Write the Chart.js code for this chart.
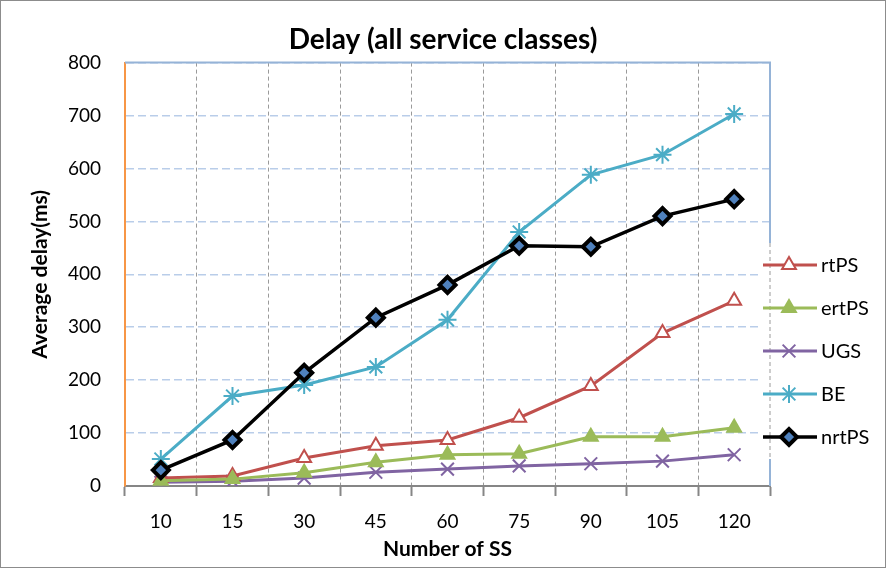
<!DOCTYPE html>
<html>
<head>
<meta charset="utf-8">
<script src="https://cdn.jsdelivr.net/npm/chart.js@4"></script>
<style>
  html, body { margin: 0; padding: 0; background: #fff; }
  #wrap { width: 886px; height: 568px; }
</style>
</head>
<body>
<div id="wrap"><canvas id="delayChart" width="886" height="568"></canvas></div>
<script>
var categories = ['10', '15', '30', '45', '60', '75', '90', '105', '120'];
var yTicks = [0, 100, 200, 300, 400, 500, 600, 700, 800];

var rtPS  = [15, 19, 53, 76, 87, 129, 189, 289, 350];
var ertPS = [10, 13, 25, 45, 59, 61, 93, 93, 110];
var UGS   = [7, 9, 15, 26, 32, 38, 42, 47, 59];
var BE    = [51, 170, 191, 225, 314, 480, 588, 626, 703];
var nrtPS = [30, 87, 214, 318, 380, 454, 452, 510, 542];

var FONT = 'Lato, "Open Sans", sans-serif';

// plot frame (top + right edges) and outer border
var framePlugin = {
    id: 'frame',
    beforeDatasetsDraw: function (chart) {
        var a = chart.chartArea, ctx = chart.ctx;
        ctx.save();
        ctx.strokeStyle = '#95b3d7';
        ctx.lineWidth = 2;
        ctx.beginPath();
        ctx.moveTo(a.left, a.top);
        ctx.lineTo(a.right, a.top);
        ctx.lineTo(a.right, a.bottom);
        ctx.stroke();
        ctx.restore();
    },
    afterDraw: function (chart) {
        var ctx = chart.ctx;
        ctx.save();
        ctx.strokeStyle = '#8c8c8c';
        ctx.lineWidth = 1;
        ctx.strokeRect(0.5, 0.5, chart.width - 1, chart.height - 1);
        ctx.restore();
    }
};

// legend sitting over the right edge of the plot, like the original
var sideLegend = {
    id: 'sideLegend',
    afterDraw: function (chart) {
        var a = chart.chartArea, ctx = chart.ctx;
        var x0 = a.right - 7, y0 = 265, step = 43;
        ctx.save();
        ctx.fillStyle = '#fff';
        ctx.fillRect(x0 - 4, y0 - 22, chart.width - x0 - 1, step * 4 + 44);
        ctx.strokeStyle = '#9a9a9a';
        ctx.lineWidth = 1;
        ctx.setLineDash([4, 3]);
        ctx.beginPath();
        ctx.moveTo(a.right, y0 - 22);
        ctx.lineTo(a.right, y0 + step * 4 + 22);
        ctx.stroke();
        chart.data.datasets.forEach(function (ds, i) {
            var y = y0 + i * step;
            ctx.strokeStyle = ds.borderColor;
            ctx.lineWidth = ds.borderWidth;
            ctx.setLineDash([]);
            ctx.beginPath();
            ctx.moveTo(x0, y);
            ctx.lineTo(x0 + 54, y);
            ctx.stroke();
            ctx.fillStyle = ds.pointBackgroundColor;
            ctx.strokeStyle = ds.pointBorderColor;
            ctx.lineWidth = ds.pointBorderWidth;
            Chart.helpers.drawPoint(ctx, {
                pointStyle: ds.pointStyle,
                radius: ds.pointRadius,
                borderWidth: ds.pointBorderWidth,
                rotation: 0
            }, x0 + 26, y);
            ctx.fillStyle = '#000';
            ctx.font = '20px ' + FONT;
            ctx.textBaseline = 'middle';
            ctx.fillText(ds.label, x0 + 58, y + 1);
        });
        ctx.restore();
    }
};

function series(label, data, color, style, fill, radius, order) {
    return {
        label: label,
        data: data,
        borderColor: color,
        borderWidth: 3,
        pointStyle: style,
        pointRadius: radius,
        pointHoverRadius: radius,
        pointBackgroundColor: fill,
        pointBorderColor: color,
        pointBorderWidth: 2,
        tension: 0,
        order: order
    };
}

var nrt = series('nrtPS', nrtPS, '#000000', 'rectRot', '#4f81bd', 8, 0);
nrt.borderWidth = 3.5;
nrt.pointBorderWidth = 4;

new Chart(document.getElementById('delayChart'), {
    type: 'line',
    data: {
        labels: categories,
        datasets: [
            series('rtPS', rtPS, '#c0504d', 'triangle', '#ffffff', 8, 4),
            series('ertPS', ertPS, '#9bbb59', 'triangle', '#9bbb59', 8, 3),
            series('UGS', UGS, '#8064a2', 'crossRot', '#8064a2', 9, 5),
            series('BE', BE, '#4bacc6', 'star', '#4bacc6', 9, 2),
            nrt
        ]
    },
    options: {
        responsive: false,
        animation: false,
        layout: { padding: 0 },
        plugins: {
            legend: { display: false },
            tooltip: { enabled: false },
            title: {
                display: true,
                text: 'Delay (all service classes)',
                color: '#000',
                font: { family: FONT, size: 28, weight: 'bold' },
                padding: { top: 23, bottom: 6 }
            }
        },
        scales: {
            x: {
                offset: true,
                grid: {
                    offset: true,
                    color: '#9a9a9a',
                    lineWidth: 1,
                    tickLength: 10,
                    tickColor: '#868686',
                    tickWidth: 2
                },
                border: { color: '#868686', width: 2, dash: [4, 3] },
                ticks: { color: '#000', padding: 14, font: { family: FONT, size: 19 } },
                title: {
                    display: true,
                    text: 'Number of SS',
                    color: '#000',
                    padding: { top: 0, bottom: 6 },
                    font: { family: FONT, size: 21, weight: 'bold' }
                },
                afterFit: function (scale) { scale.height = 82; }
            },
            y: {
                min: 0,
                max: 800,
                afterBuildTicks: function (scale) {
                    scale.ticks = yTicks.map(function (v) { return { value: v }; });
                },
                grid: { color: '#b9cde9', lineWidth: 1.5, drawTicks: false },
                border: { color: '#f79646', width: 2, dash: [8, 4] },
                ticks: { color: '#000', padding: 24, font: { family: FONT, size: 19 } },
                title: {
                    display: true,
                    text: 'Average delay(ms)',
                    color: '#000',
                    padding: { top: 28, bottom: 0 },
                    font: { family: FONT, size: 21, weight: 'bold' }
                },
                afterFit: function (scale) { scale.width = 125; }
            },
            // empty right-hand box so the plot stops where the legend begins
            side: {
                type: 'linear',
                position: 'right',
                display: true,
                grid: { display: false, drawOnChartArea: false },
                border: { display: false },
                ticks: { display: false },
                afterFit: function (scale) { scale.width = 116; }
            }
        }
    },
    plugins: [framePlugin, sideLegend]
});
</script>
</body>
</html>
